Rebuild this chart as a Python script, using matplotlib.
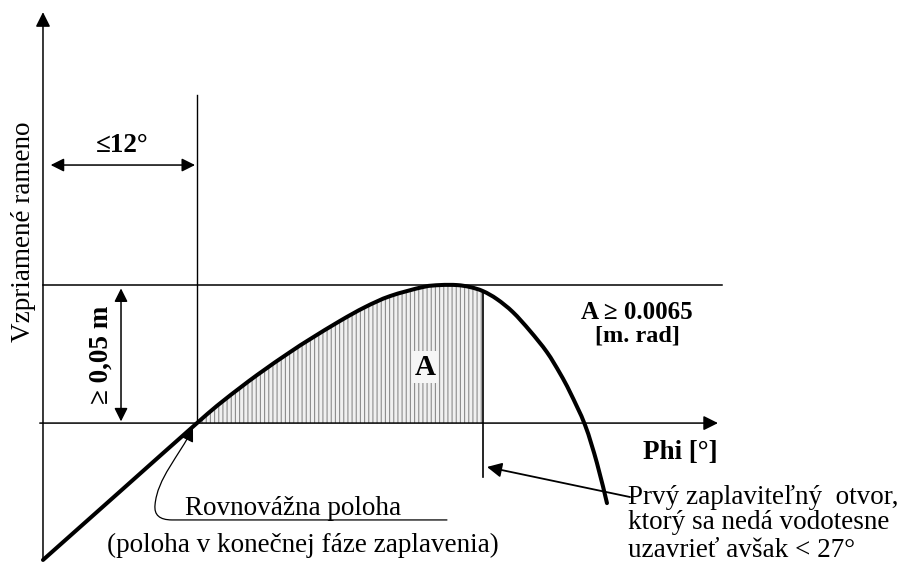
import numpy as np
import matplotlib.pyplot as plt
from matplotlib.patches import FancyArrowPatch, PathPatch
from matplotlib.path import Path

# righting lever curve (heel angle in degrees, lever in metres)
phi = [0.0, 6.0, 12.0, 14.03, 16.68, 19.25, 20.81, 23.14, 25.09, 27.04,
       29.61, 30.94, 32.26, 33.27, 34.29, 35.38, 36.62, 37.95, 39.27, 40.29,
       41.07, 42.24, 43.17, 43.95]
gz = [-0.0496, -0.0248, 0.0, 0.0080, 0.0174, 0.0257, 0.0304, 0.0370, 0.0420,
      0.0460, 0.0493, 0.0500, 0.0500, 0.0493, 0.0478, 0.0449, 0.0402, 0.0334,
      0.0257, 0.0180, 0.0112, -0.0007, -0.0145, -0.0290]

phi_eq = 12.0        # equilibrium heel angle
phi_flood = 34.29    # first floodable opening
gz_req = 0.05        # required lever

plt.rcParams['font.family'] = ['Liberation Serif', 'DejaVu Serif']
plt.rcParams['hatch.linewidth'] = 0.8
FS = 19.5
SYM = ['Liberation Serif', 'DejaVu Sans']


def smooth_path(xs, ys):
    # Catmull-Rom through the points, written as cubic Bezier pieces
    pts = np.column_stack([xs, ys])
    n = len(pts)
    verts = [pts[0]]
    codes = [Path.MOVETO]
    for i in range(n - 1):
        p0 = pts[max(i - 1, 0)]
        p1 = pts[i]
        p2 = pts[i + 1]
        p3 = pts[min(i + 2, n - 1)]
        verts += [p1 + (p2 - p0) / 6, p2 - (p3 - p1) / 6, p2]
        codes += [Path.CURVE4] * 3
    return Path(verts, codes)


fig = plt.figure(figsize=(9.12, 5.71), dpi=100)
ax = fig.add_axes([0, 0, 1, 1])
ax.set_xlim(-3.35, 67.72)
ax.set_ylim(-0.0536, 0.1533)
ax.axis('off')

k = 'black'

# axes with arrows
ax.annotate('', xy=(0, 0.1489), xytext=(0, -0.0496),
            arrowprops=dict(arrowstyle='-|>', color=k, lw=1.1,
                            mutation_scale=22, shrinkA=0, shrinkB=0))
ax.annotate('', xy=(52.6, 0), xytext=(-0.25, 0),
            arrowprops=dict(arrowstyle='-|>', color=k, lw=1.1,
                            mutation_scale=22, shrinkA=0, shrinkB=0))

# reference lines
ax.plot([0, 52.9], [gz_req, gz_req], color=k, lw=1.1)
ax.plot([phi_eq, phi_eq], [0, 0.1188], color=k, lw=1.0)

# hatched area between equilibrium and flooding angle
i0 = phi.index(phi_eq)
i1 = phi.index(phi_flood)
flat = smooth_path(phi[i0:i1 + 1], gz[i0:i1 + 1]).to_polygons(closed_only=False)[0]
sel = np.vstack([flat, [phi_flood, 0], [phi_eq, 0], [phi_eq, 0]])
ax.add_patch(PathPatch(Path(sel, closed=True), facecolor='#f0f0f0',
                       edgecolor='#8c8c8c', hatch='||||', lw=0))
ax.plot([phi_flood, phi_flood], [gz[i1], -0.0196], color=k, lw=1.2)

# curve itself
ax.add_patch(PathPatch(smooth_path(phi, gz), facecolor='none', edgecolor=k,
                       lw=2.9, capstyle='round', joinstyle='round'))

# dimension arrows
ax.annotate('', xy=(0.6, 0.0935), xytext=(11.85, 0.0935),
            arrowprops=dict(arrowstyle='<|-|>', color=k, lw=1.1,
                            mutation_scale=20, shrinkA=0, shrinkB=0))
ax.text(6.16, 0.1007, '≤12°', ha='center', va='center', fontsize=FS,
        fontweight='bold', family=SYM)
ax.annotate('', xy=(6.08, gz_req - 0.0012), xytext=(6.08, 0.0006),
            arrowprops=dict(arrowstyle='<|-|>', color=k, lw=1.1,
                            mutation_scale=20, shrinkA=0, shrinkB=0))
ax.text(4.55, 0.0246, '≥ 0,05 m', ha='center', va='center', fontsize=FS,
        fontweight='bold', rotation=90, family=SYM)

# labels
ax.text(-1.48, 0.0692, 'Vzpriamené rameno', ha='center', va='center',
        fontsize=FS, rotation=90)
ax.text(49.7, -0.0105, 'Phi [°]', ha='center', va='center', fontsize=FS,
        fontweight='bold')
ax.text(29.77, 0.0203, 'A', ha='center', va='center', fontsize=21,
        fontweight='bold', bbox=dict(facecolor='#f6f6f6', edgecolor='none', pad=2))
ax.text(46.3, 0.0402, 'A ≥ 0.0065', ha='center', va='center', fontsize=18,
        fontweight='bold', family=SYM)
ax.text(46.3, 0.0315, '[m. rad]', ha='center', va='center', fontsize=17.5,
        fontweight='bold')

ax.text(11.1, -0.0308, 'Rovnovážna poloha', ha='left', va='center', fontsize=FS)
ax.text(4.99, -0.0442, '(poloha v konečnej fáze zaplavenia)', ha='left',
        va='center', fontsize=FS)
ax.text(45.6, -0.0268, 'Prvý zaplaviteľný  otvor,', ha='left', va='center',
        fontsize=FS)
ax.text(45.6, -0.0362, 'ktorý sa nedá vodotesne', ha='left', va='center',
        fontsize=FS)
ax.text(45.6, -0.0460, 'uzavrieť avšak < 27°', ha='left', va='center',
        fontsize=FS)

# pointer to the first floodable opening
ax.annotate('', xy=(34.6, -0.0159), xytext=(45.75, -0.0268),
            arrowprops=dict(arrowstyle='-|>', color=k, lw=1.3,
                            mutation_scale=22, shrinkA=0, shrinkB=0))

# curved pointer to the equilibrium position, running off the underline
verts = [(31.48, -0.0351), (10.05, -0.0351), (8.6, -0.0351), (8.73, -0.0297),
         (8.9, -0.0200), (10.6, -0.0120), (11.69, -0.0018)]
codes = [Path.MOVETO, Path.LINETO, Path.CURVE3, Path.CURVE3,
         Path.CURVE4, Path.CURVE4, Path.CURVE4]
ax.add_patch(FancyArrowPatch(path=Path(verts, codes), arrowstyle='-|>',
                             color=k, lw=0.9, mutation_scale=20))

fig.savefig('out.png', dpi=100)
